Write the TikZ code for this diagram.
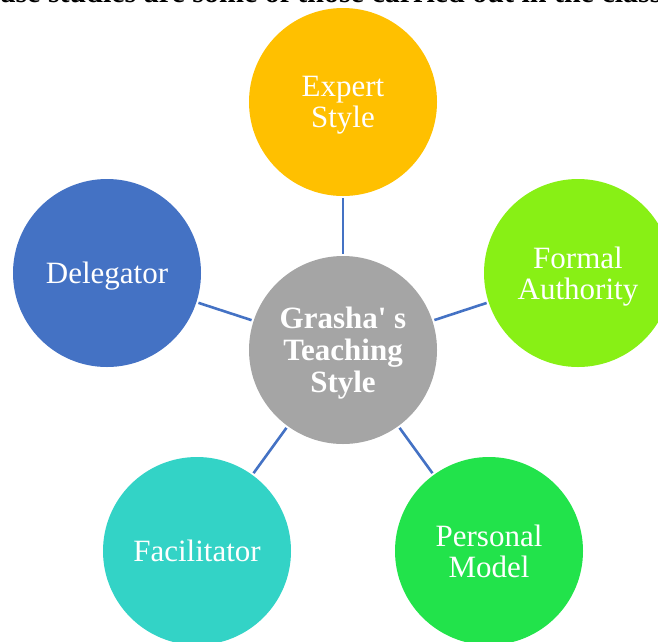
\documentclass[tikz,border=0pt]{standalone}
\usepackage{fontspec}
\setmainfont{Liberation Serif}
\definecolor{cexpert}{HTML}{FFC000}
\definecolor{cformal}{HTML}{88F015}
\definecolor{cdeleg}{HTML}{4472C4}
\definecolor{cgray}{HTML}{A5A5A5}
\definecolor{cfacil}{HTML}{33D3C6}
\definecolor{cperson}{HTML}{22E34B}
\definecolor{cline}{HTML}{4472C4}
\tikzset{
  bubble/.style={circle, minimum size=188pt, inner sep=0pt, align=center,
    text=white, text depth=0pt, font=\fontsize{31}{31}\selectfont},
  conn/.style={draw=cline, line width=2.6pt, shorten >=2pt, shorten <=2pt},
}
\begin{document}
\begin{tikzpicture}[x=1pt,y=-1pt]
\useasboundingbox (0,0) rectangle (658,641);
\clip (0,0) rectangle (658,641);
\node[anchor=base west, font=\bfseries\fontsize{30}{30}\selectfont, inner sep=0pt] (toptext) at (-13,2.5) {case studies are some of those carried out in the class};
\node[bubble, fill=cgray, font=\bfseries\fontsize{31}{32}\selectfont] (center) at (343,350) {Grasha\textquotesingle{} s\\Teaching\\Style};
\node[bubble, fill=cexpert] (expert) at (343,102) {Expert\\Style};
\node[bubble, fill=cformal] (formal) at (578,273) {Formal\\Authority};
\node[bubble, fill=cdeleg] (deleg) at (107,273) {Delegator};
\node[bubble, fill=cfacil] (facil) at (197,551) {Facilitator};
\node[bubble, fill=cperson] (person) at (489,551) {Personal\\Model};
\draw[conn] (center) -- (expert);
\draw[conn] (center) -- (formal);
\draw[conn] (center) -- (deleg);
\draw[conn] (center) -- (facil);
\draw[conn] (center) -- (person);
\end{tikzpicture}
\end{document}
